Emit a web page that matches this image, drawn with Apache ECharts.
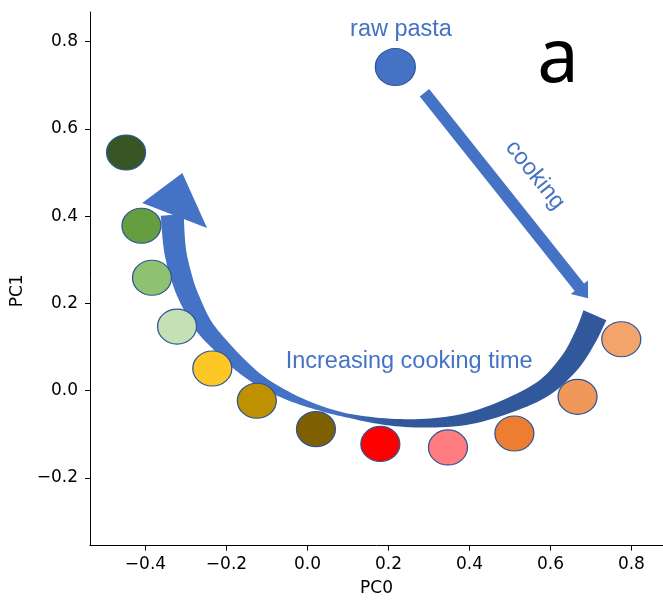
<!DOCTYPE html>
<html><head><meta charset="utf-8">
<script src="https://cdn.jsdelivr.net/npm/echarts@6/dist/echarts.min.js"></script>
<style>html,body{margin:0;padding:0;background:#fff}#c{width:663px;height:600px}</style>
</head><body><div id="c"></div>
<script>
// cooked samples, ordered by increasing cooking time
const samples = ['t1','t2','t3','t4','t5','t6','t7','t8','t9','t10','t11','t12'];
const pc0 = [0.775, 0.667, 0.511, 0.347, 0.180, 0.021, -0.125, -0.235, -0.322, -0.384, -0.410, -0.448];
const pc1 = [0.118, -0.014, -0.098, -0.130, -0.122, -0.088, -0.023, 0.051, 0.147, 0.259, 0.378, 0.546];
// raw pasta
const rawPC0 = [0.217];
const rawPC1 = [0.742];
// tick labels
const xTicks = [-0.4, -0.2, 0.0, 0.2, 0.4, 0.6, 0.8];
const yTicks = [-0.2, 0.0, 0.2, 0.4, 0.6, 0.8];

// styles
const pointColors = ['#F2A46A','#F1975A','#ED7D31','#FF7C80','#FF0000','#7F6000','#BF9000','#FDC725','#C5E0B4','#8FC270','#659D41','#375623'];
const blue = '#4472C4', darkBlue = '#2F5597';

// annotation geometry (data units)
const arcPts = [[-0.334,0.403],[-0.327,0.322],[-0.309,0.254],[-0.290,0.208],[-0.258,0.151],[-0.220,0.109],[-0.166,0.059],[-0.112,0.020],[-0.043,-0.014],[0.031,-0.040],[0.105,-0.058],[0.204,-0.072],[0.303,-0.074],[0.402,-0.063],[0.500,-0.033],[0.587,0.008],[0.649,0.066],[0.686,0.123],[0.710,0.173]];
const arcW = [23,22,21,20,18,16,14,11,8,5,4,7,9,12,15,18,21,23,25];
const arcHead = [[-0.408,0.430],[-0.309,0.499],[-0.248,0.373]];
const straightArrow = [[0.289,0.683],[0.693,0.212]];

const fmt = v => v.toFixed(1).replace('-', '\u2212');
const tickFont = 'DejaVu Sans';

function catmull(pts, ws, steps) {
  const out = [], ow = [];
  for (let i = 0; i < pts.length - 1; i++) {
    const p0 = pts[Math.max(i-1,0)], p1 = pts[i], p2 = pts[i+1], p3 = pts[Math.min(i+2, pts.length-1)];
    for (let s = 0; s < steps; s++) {
      const t = s/steps, t2 = t*t, t3 = t2*t;
      const f = (a,b,c,d) => 0.5*((2*b)+(-a+c)*t+(2*a-5*b+4*c-d)*t2+(-a+3*b-3*c+d)*t3);
      out.push([f(p0[0],p1[0],p2[0],p3[0]), f(p0[1],p1[1],p2[1],p3[1])]);
      ow.push(ws[i] + (ws[i+1]-ws[i])*t);
    }
  }
  out.push(pts[pts.length-1]); ow.push(ws[ws.length-1]);
  return [out, ow];
}

function renderAnno(params, api) {
  const P = arcPts.map(p => api.coord(p));
  const [C, W] = catmull(P, arcW, 8);
  const L = [], R = [];
  for (let i = 0; i < C.length; i++) {
    const a = C[Math.max(i-1,0)], b = C[Math.min(i+1,C.length-1)];
    let tx = b[0]-a[0], ty = b[1]-a[1]; const n = Math.hypot(tx,ty) || 1;
    const nx = -ty/n, ny = tx/n, h = W[i]/2;
    L.push([C[i][0]+nx*h, C[i][1]+ny*h]);
    R.push([C[i][0]-nx*h, C[i][1]-ny*h]);
  }
  const band = L.concat(R.reverse());
  const xs = C.map(c => c[0]);
  const x0 = Math.min(...xs), x1 = Math.max(...xs);
  const grad = new echarts.graphic.LinearGradient(x0, 0, x1, 0, [
    {offset: 0, color: blue}, {offset: 0.38, color: blue},
    {offset: 0.52, color: '#31589A'}, {offset: 1, color: '#31589A'}], true);
  const head = arcHead.map(p => api.coord(p));

  const s = api.coord(straightArrow[0]), e = api.coord(straightArrow[1]);
  let ux = e[0]-s[0], uy = e[1]-s[1]; const len = Math.hypot(ux,uy); ux/=len; uy/=len;
  const nx = -uy, ny = ux, sw = 6, hw = 11, hl = 14;
  const hx = e[0]-ux*hl, hy = e[1]-uy*hl;
  const arrow = [[s[0]+nx*sw, s[1]+ny*sw],[hx+nx*sw, hy+ny*sw],[hx+nx*hw, hy+ny*hw],[e[0],e[1]],
                 [hx-nx*hw, hy-ny*hw],[hx-nx*sw, hy-ny*sw],[s[0]-nx*sw, s[1]-ny*sw]];

  const t1 = api.coord([0.231, 0.829]);
  const t2 = api.coord([0.251, 0.068]);
  const t3 = api.coord([0.562, 0.494]);
  const txtFont = '23.5px "Liberation Sans", Arial, sans-serif';
  return {
    type: 'group',
    children: [
      {type: 'polygon', shape: {points: band}, style: {fill: grad}},
      {type: 'polygon', shape: {points: head}, style: {fill: blue}},
      {type: 'polygon', shape: {points: arrow}, style: {fill: blue}},
      {type: 'text', x: t1[0], y: t1[1], style: {text: 'raw pasta', fill: blue, font: txtFont, align: 'center', verticalAlign: 'middle'}},
      {type: 'text', x: t2[0], y: t2[1], style: {text: 'Increasing cooking time', fill: blue, font: txtFont, align: 'center', verticalAlign: 'middle'}},
      {type: 'text', x: t3[0], y: t3[1], rotation: -Math.atan2(e[1]-s[1], e[0]-s[0]),
        style: {text: 'cooking', fill: blue, font: txtFont, align: 'center', verticalAlign: 'middle'}}
    ]
  };
}

const chart = echarts.init(document.getElementById('c'), null, {renderer: 'canvas'});
const axisCommon = {
  type: 'value',
  splitLine: {show: false},
  axisLine: {show: true, onZero: false, lineStyle: {color: '#000', width: 1}},
  nameLocation: 'middle',
  nameTextStyle: {fontSize: 17, fontFamily: tickFont, color: '#000'}
};
chart.setOption({
  animation: false,
  backgroundColor: '#fff',
  grid: {left: 90, right: 0, top: 12, bottom: 54.4, containLabel: false, outerBoundsMode: 'none'},
  xAxis: Object.assign({}, axisCommon, {
    min: -0.537, max: 0.878,
    name: 'PC0', nameGap: 34,
    axisTick: {show: true, customValues: xTicks, length: 5, lineStyle: {color: '#000'}},
    axisLabel: {customValues: xTicks, formatter: fmt, fontSize: 17, fontFamily: tickFont, color: '#000', margin: 10}
  }),
  yAxis: Object.assign({}, axisCommon, {
    min: -0.355, max: 0.868,
    name: 'PC1', nameGap: 62,
    nameTextStyle: {fontSize: 17, fontFamily: tickFont, color: '#000', padding: [0, 24, 0, 0]},
    axisTick: {show: true, customValues: yTicks, length: 5, lineStyle: {color: '#000'}},
    axisLabel: {customValues: yTicks, formatter: fmt, fontSize: 17, fontFamily: tickFont, color: '#000', margin: 12}
  }),
  graphic: [{type: 'text', x: 558, y: 61, style: {text: 'a', fill: '#000', font: '74px "Noto Sans", "Open Sans", sans-serif', align: 'center', verticalAlign: 'middle'}}],
  series: [
    {type: 'custom', coordinateSystem: 'cartesian2d', data: [[0, 0]], renderItem: renderAnno, clip: false, silent: true, z: 1},
    {type: 'scatter', name: 'cooked', z: 3, symbol: 'circle', symbolSize: [39, 35],
      data: pc0.map((x, i) => [x, pc1[i], samples[i]]),
      itemStyle: {color: p => pointColors[p.dataIndex], borderColor: darkBlue, borderWidth: 1.2, opacity: 1}},
    {type: 'scatter', name: 'raw pasta', z: 3, symbol: 'circle', symbolSize: [40, 37],
      data: rawPC0.map((x, i) => [x, rawPC1[i]]),
      itemStyle: {color: blue, borderColor: darkBlue, borderWidth: 1.2, opacity: 1}}
  ]
});
</script></body></html>
